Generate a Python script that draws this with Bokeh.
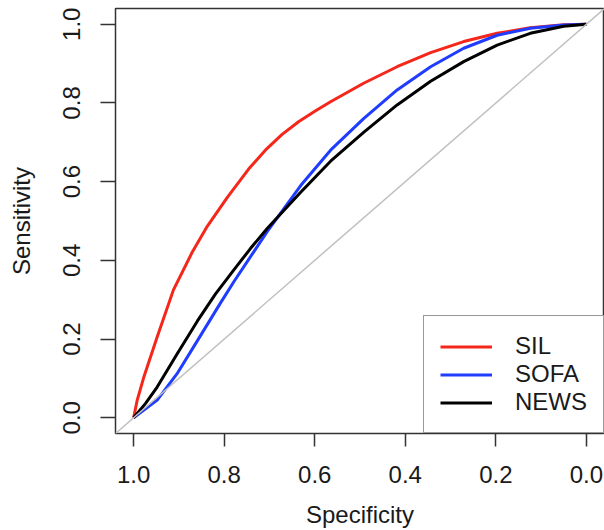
from bokeh.plotting import figure
from bokeh.models import Range1d, FixedTicker, Slope, PrintfTickFormatter
from bokeh.embed import file_html
from bokeh.resources import INLINE

# ---- data (specificity, sensitivity) ----
sil_spec = [1.0, 0.992, 0.977, 0.948, 0.912, 0.870, 0.837, 0.793, 0.746, 0.709, 0.672,
            0.635, 0.598, 0.565, 0.492, 0.418, 0.344, 0.271, 0.197, 0.124, 0.05, 0.0]
sil_sens = [0.0, 0.045, 0.105, 0.205, 0.325, 0.422, 0.487, 0.560, 0.632, 0.680, 0.720,
            0.753, 0.780, 0.803, 0.850, 0.892, 0.928, 0.956, 0.977, 0.991, 0.999, 1.0]

sofa_spec = [1.0, 0.948, 0.904, 0.859, 0.808, 0.779, 0.705, 0.631, 0.565, 0.492, 0.418,
             0.344, 0.271, 0.197, 0.124, 0.05, 0.0]
sofa_sens = [0.0, 0.045, 0.112, 0.196, 0.292, 0.345, 0.473, 0.590, 0.680, 0.760, 0.833,
             0.892, 0.939, 0.972, 0.990, 0.998, 1.0]

news_spec = [1.0, 0.974, 0.948, 0.904, 0.859, 0.819, 0.779, 0.742, 0.705, 0.631, 0.565,
             0.492, 0.418, 0.344, 0.271, 0.197, 0.124, 0.05, 0.0]
news_sens = [0.0, 0.036, 0.078, 0.162, 0.246, 0.315, 0.375, 0.430, 0.481, 0.573, 0.652,
             0.725, 0.795, 0.855, 0.905, 0.947, 0.977, 0.995, 1.0]

series_names = ["SIL", "SOFA", "NEWS"]
series_colors = ["#f5261a", "#1f3cff", "#000000"]

x_ticks = [1.0, 0.8, 0.6, 0.4, 0.2, 0.0]
y_ticks = [0.0, 0.2, 0.4, 0.6, 0.8, 1.0]

FONT = "Liberation Sans"
TXT = "#1a1a1a"
EDGE = "#333333"

p = figure(width=604, height=530,
           x_range=Range1d(1.04, -0.04), y_range=Range1d(-0.04, 1.04),
           output_backend="svg", toolbar_location=None,
           min_border_left=115, min_border_right=0,
           min_border_top=8, min_border_bottom=93,
           x_axis_label="Specificity", y_axis_label="Sensitivity")
p.grid.visible = False
p.outline_line_color = EDGE
p.outline_line_width = 1.5
p.background_fill_color = "white"
p.border_fill_color = "white"

# chance diagonal
p.add_layout(Slope(gradient=-1, y_intercept=1, line_color="#c0c0c0", line_width=1.5))

data = [(sil_spec, sil_sens), (sofa_spec, sofa_sens), (news_spec, news_sens)]
for (xs, ys), name, col in zip(data, series_names, series_colors):
    p.line(xs, ys, line_color=col, line_width=3, legend_label=name,
           line_join="round")

for ax in (p.xaxis[0], p.yaxis[0]):
    ax.axis_line_color = None
    ax.major_tick_in = 0
    ax.minor_tick_line_color = None
    ax.major_tick_line_color = EDGE
    ax.major_tick_line_width = 1.5
    ax.major_label_text_font = FONT
    ax.major_label_text_font_size = "24px"
    ax.major_label_text_color = TXT
    ax.axis_label_text_font = FONT
    ax.axis_label_text_font_size = "24px"
    ax.axis_label_text_font_style = "normal"
    ax.axis_label_text_color = TXT
    ax.formatter = PrintfTickFormatter(format="%.1f")

p.xaxis[0].ticker = FixedTicker(ticks=x_ticks)
p.yaxis[0].ticker = FixedTicker(ticks=y_ticks)
p.xaxis[0].major_tick_out = 13
p.yaxis[0].major_tick_out = 15
p.xaxis[0].major_label_standoff = 19
p.xaxis[0].axis_label_standoff = 15
p.yaxis[0].major_label_standoff = 20
p.yaxis[0].axis_label_standoff = 26
p.yaxis[0].major_label_orientation = "vertical"

lg = p.legend[0]
lg.location = "bottom_right"
lg.margin = 0
lg.padding = 16
lg.spacing = 0
lg.glyph_width = 52
lg.glyph_height = 27
lg.label_height = 27
lg.label_standoff = 23
lg.label_text_font = FONT
lg.label_text_font_size = "24px"
lg.label_text_color = TXT
lg.border_line_color = EDGE
lg.border_line_width = 1.5
lg.background_fill_alpha = 1.0

open("out.html", "w").write(file_html(p, INLINE))
